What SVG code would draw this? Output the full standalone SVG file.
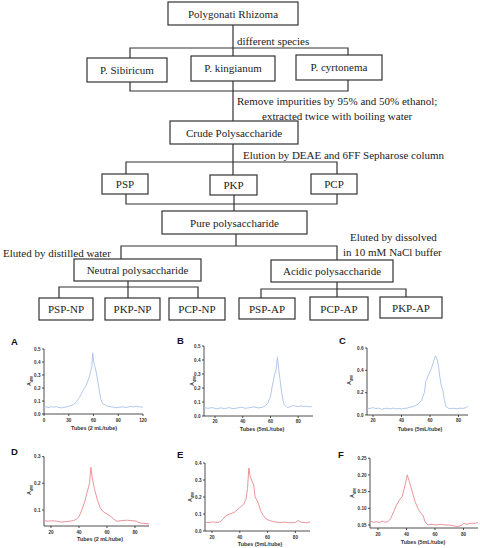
<svg xmlns="http://www.w3.org/2000/svg" width="480" height="548" viewBox="0 0 480 548">
<style>
.bx{fill:#fff;stroke:#333;stroke-width:1.2}
.t{font-family:"Liberation Serif","Times New Roman",serif;font-size:11px;fill:#222}
.m{text-anchor:middle}
.ln{fill:none;stroke:#333;stroke-width:1.2}
.ax{fill:none;stroke:#222;stroke-width:0.8}
.tk{font-family:"Liberation Sans",Arial,sans-serif;font-weight:bold;font-size:4.6px;fill:#333}
.at{font-family:"Liberation Sans",Arial,sans-serif;font-weight:bold;font-size:5.4px;fill:#333;text-anchor:middle}
.pl{font-family:"Liberation Sans",Arial,sans-serif;font-weight:bold;font-size:9.5px;fill:#111}
.r{text-anchor:end}
.cb{fill:none;stroke:#a9c2ea;stroke-width:0.9;stroke-linejoin:round}
.cr{fill:none;stroke:#e8898f;stroke-width:0.9;stroke-linejoin:round}
</style>
<rect width="480" height="548" fill="#fff"/>
<g id="connectors">
<path class="ln" d="M233,25V56M130,58V48H348V55M130,82V91H348V80M233,81V121"/>
<path class="ln" d="M233,144V175M126,174V162H337V174M126,194V204H337V194M234,195V211"/>
<path class="ln" d="M236,234V246M121,259V246H337V260"/>
<path class="ln" d="M128,281V298M59,298V287H198V298"/>
<path class="ln" d="M337,282V298M261,298V289H406V297"/>
</g>
<g id="edge-labels">
<text class="t" x="237" y="45">different species</text>
<text class="t" x="237" y="105">Remove impurities by 95% and 50% ethanol;</text>
<text class="t" x="262" y="120">extracted twice with boiling water</text>
<text class="t" x="243" y="159">Elution by DEAE and 6FF Sepharose column</text>
<text class="t" x="3" y="256.5">Eluted by distilled water</text>
<text class="t" x="350" y="240.5">Eluted by dissolved</text>
<text class="t" x="343" y="256">in 10 mM NaCl buffer</text>
</g>
<g id="n-rhizoma"><rect class="bx" x="168" y="2" width="130" height="23"/><text class="t m" x="233" y="17.5">Polygonati Rhizoma</text></g>
<g id="n-sibiricum"><rect class="bx" x="87" y="58" width="80" height="24"/><text class="t m" x="127" y="74">P. Sibiricum</text></g>
<g id="n-kingianum"><rect class="bx" x="191" y="56" width="84" height="25"/><text class="t m" x="233" y="72">P. kingianum</text></g>
<g id="n-cyrtonema"><rect class="bx" x="296" y="55" width="86" height="25"/><text class="t m" x="339" y="71">P. cyrtonema</text></g>
<g id="n-crude"><rect class="bx" x="170" y="121" width="128" height="23"/><text class="t m" x="234" y="136.5">Crude Polysaccharide</text></g>
<g id="n-psp"><rect class="bx" x="102" y="174" width="46" height="20"/><text class="t m" x="125" y="188">PSP</text></g>
<g id="n-pkp"><rect class="bx" x="210" y="175" width="47" height="20"/><text class="t m" x="233.5" y="189">PKP</text></g>
<g id="n-pcp"><rect class="bx" x="311" y="174" width="46" height="20"/><text class="t m" x="334" y="188">PCP</text></g>
<g id="n-pure"><rect class="bx" x="162" y="211" width="145" height="23"/><text class="t m" x="234.5" y="226.5">Pure polysaccharide</text></g>
<g id="n-neutral"><rect class="bx" x="74" y="259" width="127" height="22"/><text class="t m" x="137.5" y="274">Neutral polysaccharide</text></g>
<g id="n-acidic"><rect class="bx" x="271" y="260" width="122" height="22"/><text class="t m" x="332" y="275">Acidic polysaccharide</text></g>
<g id="n-psp-np"><rect class="bx" x="39" y="298" width="54" height="22"/><text class="t m" x="66" y="313">PSP-NP</text></g>
<g id="n-pkp-np"><rect class="bx" x="105" y="298" width="55" height="22"/><text class="t m" x="132.5" y="313">PKP-NP</text></g>
<g id="n-pcp-np"><rect class="bx" x="169" y="298" width="56" height="22"/><text class="t m" x="197" y="313">PCP-NP</text></g>
<g id="n-psp-ap"><rect class="bx" x="239" y="298" width="56" height="21"/><text class="t m" x="267" y="312.5">PSP-AP</text></g>
<g id="n-pcp-ap"><rect class="bx" x="310" y="297" width="58" height="23"/><text class="t m" x="339" y="312.5">PCP-AP</text></g>
<g id="n-pkp-ap"><rect class="bx" x="380" y="297" width="62" height="21"/><text class="t m" x="411" y="311.5">PKP-AP</text></g>

<g id="panel-A">
<text class="pl" x="11" y="344.5">A</text>
<path class="ax" d="M44,349V414H143M42,414H44M42,401H44M42,388H44M42,375H44M42,362H44M42,349H44M44,414V416M68.75,414V416M93.5,414V416M118.25,414V416M143,414V416"/>
<g class="tk r"><text x="40.5" y="415.6">0.0</text><text x="40.5" y="402.6">0.1</text><text x="40.5" y="389.6">0.2</text><text x="40.5" y="376.6">0.3</text><text x="40.5" y="363.6">0.4</text><text x="40.5" y="350.6">0.5</text></g>
<g class="tk m"><text x="44" y="421.5">0</text><text x="68.75" y="421.5">30</text><text x="93.5" y="421.5">60</text><text x="118.25" y="421.5">90</text><text x="143" y="421.5">120</text></g>
<text class="at" x="94" y="429.5">Tubes (2 mL/tube)</text>
<text class="at" transform="translate(31,381) rotate(-90)">A<tspan font-size="3.6" dy="1.5">490</tspan></text>
<polyline class="cb" points="44,407.5 46.5,406.9 49,407.5 51.4,406.7 53.9,407.2 56.4,406.6 58.9,407.5 61.3,407.8 63.8,407.5 66.3,406.9 68.8,406.2 71.2,405.6 73.7,404.3 76.2,402.3 78.7,398.4 81.1,394.5 83.6,389.3 86.1,385.4 88.6,378.9 90.2,373.7 91.9,365.9 92.7,352.9 93.5,360.7 94.3,364.6 96,371.1 97.6,380.2 99.3,390.6 100.9,399.7 102.6,403.6 105.1,404.9 107.5,406.2 110,406.5 113.3,407.2 116.6,407.5 119.9,407.2 123.2,406.9 126.5,407.5 129.8,406.5 133.1,406.9 136.4,406.2 139.7,406.9 143,407.2"/>
</g>

<g id="panel-B">
<text class="pl" x="177" y="344">B</text>
<path class="ax" d="M204,346V416H313M202,416H204M202,402H204M202,388H204M202,374H204M202,360H204M202,346H204M215,416V418M242.75,416V418M270.5,416V418M298.25,416V418"/>
<g class="tk r"><text x="200.5" y="417.6">0.0</text><text x="200.5" y="403.6">0.1</text><text x="200.5" y="389.6">0.2</text><text x="200.5" y="375.6">0.3</text><text x="200.5" y="361.6">0.4</text><text x="200.5" y="347.6">0.5</text></g>
<g class="tk m"><text x="215" y="422.5">20</text><text x="242.75" y="422.5">40</text><text x="270.5" y="422.5">60</text><text x="298.25" y="422.5">80</text></g>
<text class="at" x="262" y="431">Tubes (5mL/tube)</text>
<text class="at" transform="translate(194,381) rotate(-90)">A<tspan font-size="3.6" dy="1.5">490</tspan></text>
<polyline class="cb" points="204,407.6 208.1,408.3 212.2,407.6 216.4,408.7 220.6,407.9 224.7,408.6 228.9,407.6 233,408.7 237.2,408 241.4,407.3 245.5,408.3 249.7,407.6 253.9,406.9 258,407.9 262.2,407.3 265,406.2 267.7,403.4 270.5,396.4 271.9,388 273.3,381 274.7,374 276.1,369.8 277.4,357.2 278.8,369.8 280.2,381 281.6,392.2 283,400.6 284.4,404.8 287.2,407.6 289.9,406.9 292.7,405.5 295.5,406.2 298.3,406.5 301,405.9 303.8,406.5 306.6,406.2 309.4,406.9 312.2,406.2"/>
</g>

<g id="panel-C">
<text class="pl" x="339" y="344">C</text>
<path class="ax" d="M367,348V415H468M365,415H367M365,392.7H367M365,370.3H367M365,348H367M373,415V417M401.5,415V417M430,415V417M458.5,415V417"/>
<g class="tk r"><text x="363.5" y="416.6">0.0</text><text x="363.5" y="394.3">0.2</text><text x="363.5" y="371.9">0.4</text><text x="363.5" y="349.6">0.6</text></g>
<g class="tk m"><text x="373" y="421.5">20</text><text x="401.5" y="421.5">40</text><text x="430" y="421.5">60</text><text x="458.5" y="421.5">80</text></g>
<text class="at" x="420" y="431">Tubes (5mL/tube)</text>
<text class="at" transform="translate(351,380) rotate(-90)">A<tspan font-size="3.6" dy="1.5">490</tspan></text>
<polyline class="cb" points="367.3,408.9 370.2,408.3 373,407.7 375.9,408.5 378.7,408.1 381.6,409.4 384.4,408.5 387.3,408.3 390.1,408.9 393,408.1 395.8,408.9 398.7,408.5 401.5,408.9 404.4,408.5 407.2,408.1 410.1,407.2 412.9,406.6 415.8,405.5 418.6,403.8 421.5,400.5 424.3,392.7 425.8,381.5 428.6,374.8 431.5,368.1 434.3,359.2 435.7,355.8 437.1,359.2 438.6,367 440,378.1 441.4,386 442.8,390.4 444.3,399.4 445.7,406.1 448.5,408.3 451.4,408.5 454.2,408.3 457.1,408.9 459.9,408.1 462.8,408.5 465.6,407.7 467.8,406.6"/>
</g>

<g id="panel-D">
<text class="pl" x="11" y="455">D</text>
<path class="ax" d="M44,456.6V526H149M42,510H44M42,483.3H44M42,456.6H44M51,526V528M79,526V528M107,526V528M135,526V528"/>
<g class="tk r"><text x="40.5" y="511.6">0.1</text><text x="40.5" y="484.9">0.2</text><text x="40.5" y="458.2">0.3</text></g>
<g class="tk m"><text x="51" y="533.5">20</text><text x="79" y="533.5">40</text><text x="107" y="533.5">60</text><text x="135" y="533.5">80</text></g>
<text class="at" x="100" y="541">Tubes (2 mL/tube)</text>
<text class="at" transform="translate(31,490) rotate(-90)">A<tspan font-size="3.6" dy="1.5">490</tspan></text>
<polyline class="cr" points="44,520.7 48.2,521.2 52.4,520.7 56.6,521.2 60.8,522 65,521.7 69.2,521.2 73.4,520.7 76.2,519.3 79,516.7 81.8,510 84.6,502 87.4,491.3 89.5,483.3 90.9,467.3 92.3,478 94.4,488.6 97.2,499.3 100,507.3 102.8,511.3 107,514 111.2,516.7 114,519.3 116.8,521.2 121,520.7 126.6,520.2 132.2,520.7 136.4,521.2 139.2,522.8 143.4,523.3 149,523.9"/>
</g>

<g id="panel-E">
<text class="pl" x="177" y="458">E</text>
<path class="ax" d="M205,463V531H310M203,531H205M203,514H205M203,497H205M203,480H205M203,463H205M212,531V533M239.8,531V533M267.6,531V533M295.4,531V533"/>
<g class="tk r"><text x="201.5" y="532.6">0.0</text><text x="201.5" y="515.6">0.1</text><text x="201.5" y="498.6">0.2</text><text x="201.5" y="481.6">0.3</text><text x="201.5" y="464.6">0.4</text></g>
<g class="tk m"><text x="212" y="538.5">20</text><text x="239.8" y="538.5">40</text><text x="267.6" y="538.5">60</text><text x="295.4" y="538.5">80</text></g>
<text class="at" x="260" y="546">Tubes (5mL/tube)</text>
<text class="at" transform="translate(192,497) rotate(-90)">A<tspan font-size="3.6" dy="1.5">490</tspan></text>
<polyline class="cr" points="205,522.2 209.2,522.5 213.4,522 217.6,522.5 220.3,521.7 223.1,519.1 225.9,515.7 230.1,514 234.2,512.3 238.4,508.9 241.2,506.4 244,503.8 246.1,498.7 247.5,488.5 248.8,468.1 250.2,476.6 251.6,480 253.7,485.1 255.1,497 257.9,502.1 260.7,510.6 263.4,515.7 266.2,519.1 270.4,520.8 274.6,521.7 278.7,522.5 284.3,522.2 289.8,522.8 295.4,522.5 298.2,520.5 301,522.2 305.1,522.5 307.9,522.8 310,521.7"/>
</g>

<g id="panel-F">
<text class="pl" x="338" y="458">F</text>
<path class="ax" d="M370,458.2V528H478M368,525H370M368,508.3H370M368,491.6H370M368,474.9H370M368,458.2H370M378,528V530M406.5,528V530M435,528V530M463.5,528V530"/>
<g class="tk r"><text x="366.5" y="526.6">0.05</text><text x="366.5" y="509.9">0.10</text><text x="366.5" y="493.2">0.15</text><text x="366.5" y="476.5">0.20</text><text x="366.5" y="459.8">0.25</text></g>
<g class="tk m"><text x="378" y="535.5">20</text><text x="406.5" y="535.5">40</text><text x="435" y="535.5">60</text><text x="463.5" y="535.5">80</text></g>
<text class="at" x="423" y="544">Tubes (5mL/tube)</text>
<text class="at" transform="translate(354,493) rotate(-90)">A<tspan font-size="3.6" dy="1.5">490</tspan></text>
<polyline class="cr" points="370.2,521 373.7,522.3 376.6,521.7 379.4,522.7 382.3,521 385.1,522.3 388,521.7 390.8,518.3 393.7,511.6 396.5,505 399.4,500 402.2,496.6 405.1,484.9 407.2,474.9 409.4,481.6 412.2,491.6 415.1,501.6 417.9,508.3 420.8,513.3 422.9,515 425,521.7 427.9,525 432.2,524.3 436.4,525 440.7,524.3 445,525 449.3,525 453.5,525.7 457.8,526.7 462.1,525 463.5,523.3 466.4,524.3 470.6,523.3 474.9,523.3 477.8,522.3"/>
</g>
</svg>
